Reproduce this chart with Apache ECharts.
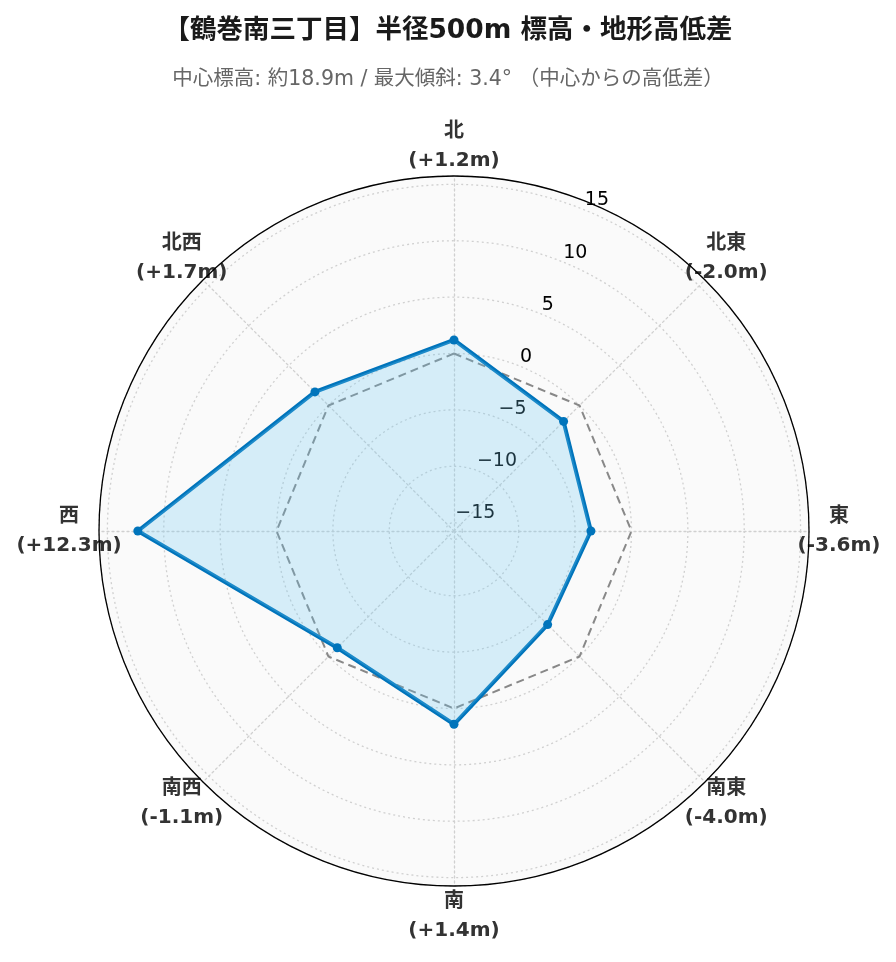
<!DOCTYPE html>
<html><head><meta charset="utf-8">
<script src="https://cdn.jsdelivr.net/npm/echarts@6/dist/echarts.min.js"></script>
<style>html,body{margin:0;padding:0;background:#fff}#c{width:896px;height:962px}</style>
</head><body><div id="c"></div>
<script>
const titleText = '【鶴巻南三丁目】半径500m 標高・地形高低差';
const subText = '中心標高: 約18.9m / 最大傾斜: 3.4° （中心からの高低差）';
const directions = ['北','北東','東','南東','南','南西','西','北西'];
const diffs = [1.2, -2.0, -3.6, -4.0, 1.4, -1.1, 12.3, 1.7];
const baseline = [0, 0, 0, 0, 0, 0, 0, 0];
const rangeMin = -15.744, rangeMax = 15.744;

const CX = 454, CY = 531, R = 355, RL = 385;
// radar goes counter-clockwise from north
const ccw = [0, 7, 6, 5, 4, 3, 2, 1];
const fmtDiff = v => (v >= 0 ? '+' : '') + v.toFixed(1) + 'm';
const FONT = 'DejaVu Sans, Noto Sans CJK JP';

const chart = echarts.init(document.getElementById('c'));
chart.setOption({
  backgroundColor: '#fff',
  animation: false,
  title: [
    {text: titleText, left: 'center', top: 13, textStyle: {fontFamily: FONT, fontSize: 26.5, fontWeight: 'bold', color: '#1a1a1a'}},
    {text: subText, left: 'center', top: 64, textStyle: {fontFamily: FONT, fontSize: 20.5, fontWeight: 'normal', color: '#666'}}
  ],
  radar: {
    center: [CX, CY], radius: R, startAngle: 90, shape: 'circle', splitNumber: 1, z: 0,
    indicator: ccw.map(i => ({name: directions[i], min: rangeMin, max: rangeMax})),
    axisName: {show: false},
    splitArea: {show: true, areaStyle: {color: ['#fafafa']}},
    splitLine: {show: false},
    axisLine: {lineStyle: {color: '#d0d0d0', type: [2, 3], width: 1.3}}
  },
  polar: [
    {center: [CX, CY], radius: R},
    {center: [CX, CY], radius: RL}
  ],
  angleAxis: [
    {polarIndex: 0, type: 'value', min: 0, max: 360, startAngle: 67.5, z: 6,
     axisLine: {show: true, lineStyle: {color: '#000', width: 1.3}},
     axisTick: {show: false}, axisLabel: {show: false}, splitLine: {show: false}},
    {polarIndex: 1, type: 'category', data: directions, startAngle: 90, clockwise: true, boundaryGap: false,
     axisLine: {show: false}, axisTick: {show: false}, axisLabel: {show: false}, splitLine: {show: false}}
  ],
  radiusAxis: [
    {polarIndex: 0, type: 'value', min: rangeMin, max: rangeMax, z: 1,
     axisLine: {show: false}, axisTick: {show: false},
     axisLabel: {show: true, margin: 2, align: 'left', verticalAlign: 'bottom', fontSize: 19,
       fontFamily: 'DejaVu Sans', color: '#000',
       formatter: v => Math.abs(v - Math.round(v)) > 1e-6 ? '' : String(Math.round(v)).replace('-', '\u2212')},
     splitLine: {show: true, lineStyle: {color: '#d0d0d0', type: [2, 3], width: 1.3}}},
    {polarIndex: 1, type: 'value', min: 0, max: 1, show: false,
     axisLine: {show: false}, axisTick: {show: false}, axisLabel: {show: false}, splitLine: {show: false}}
  ],
  series: [
    {type: 'radar', z: 3, symbol: 'none',
     data: [{value: ccw.map(i => baseline[i]),
       lineStyle: {color: '#888', width: 2, type: [8, 5]}, areaStyle: {opacity: 0}}]},
    {type: 'radar', z: 4, symbol: 'circle', symbolSize: 9,
     data: [{value: ccw.map(i => diffs[i]),
       itemStyle: {color: '#0074bb'},
       lineStyle: {color: '#0074bb', width: 4},
       areaStyle: {color: 'rgba(110,200,245,0.26)', opacity: 1}}]},
    {type: 'scatter', coordinateSystem: 'polar', polarIndex: 1, z: 2, symbolSize: 1,
     itemStyle: {color: 'rgba(0,0,0,0)'}, silent: true,
     data: directions.map((d, i) => [1, d]),
     label: {show: true, position: 'inside', fontFamily: FONT, fontWeight: 'bold',
       fontSize: 20, lineHeight: 29, color: '#333', opacity: 1,
       formatter: p => directions[p.dataIndex] + '\n(' + fmtDiff(diffs[p.dataIndex]) + ')'}}
  ]
});
</script></body></html>
